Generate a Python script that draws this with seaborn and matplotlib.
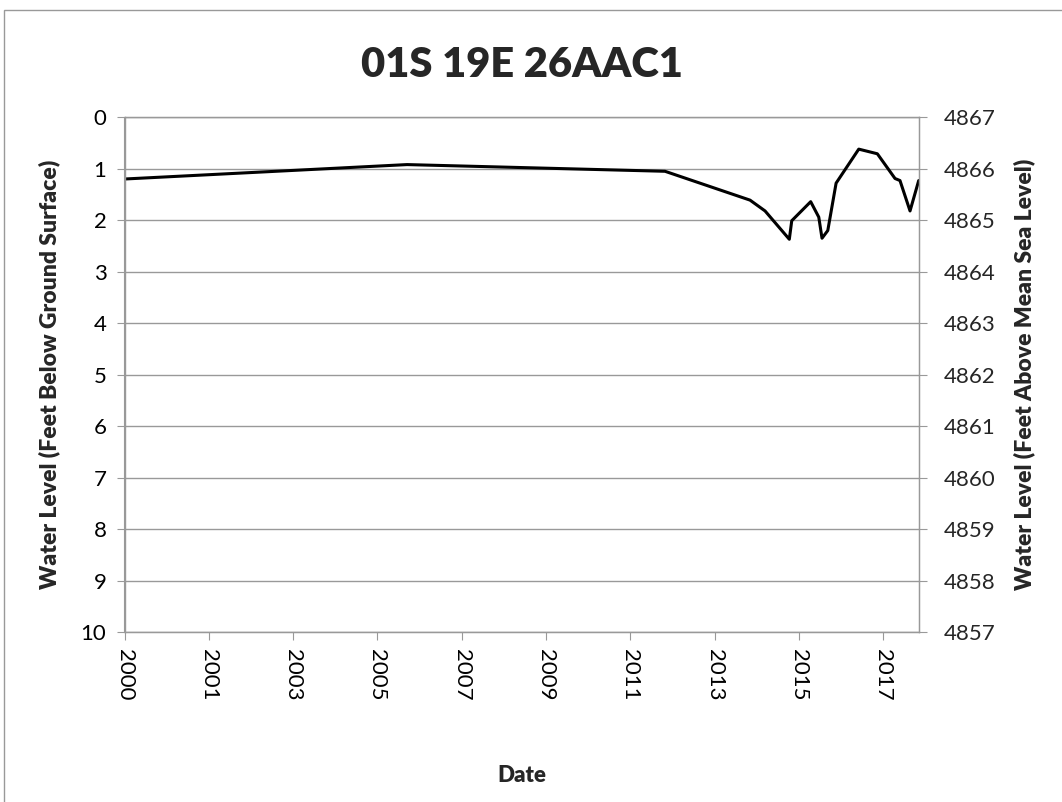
import pandas as pd
import matplotlib
matplotlib.use("Agg")
import matplotlib.pyplot as plt
import matplotlib.dates as mdates
from matplotlib.patches import Rectangle
import seaborn as sns

# well hydrograph, depth to water
dates = ["2000-01-01", "2006-09-12", "2012-10-23", "2014-10-29", "2015-03-08",
         "2015-10-04", "2015-10-25", "2016-04-06", "2016-06-15", "2016-07-13",
         "2016-09-01", "2016-11-12", "2017-05-27", "2017-11-04", "2018-04-06",
         "2018-05-19", "2018-08-14", "2018-10-28"]
depth = [1.20, 0.92, 1.05, 1.61, 1.82, 2.37, 2.01, 1.64, 1.94, 2.35,
         2.20, 1.28, 0.62, 0.71, 1.19, 1.23, 1.82, 1.23]
surface_elev = 4867
title = "01S 19E 26AAC1"

sns.set_style("white")
plt.rcParams['font.family'] = ['Lato', 'DejaVu Sans']

grey = '#999999'
df = pd.DataFrame({'date': pd.to_datetime(dates), 'depth': depth})

fig = plt.figure(figsize=(10.62, 8.02), dpi=100)
ax = fig.add_axes([124.5 / 1062, 1 - 632.3 / 802, 794.2 / 1062, 515.1 / 802])

sns.lineplot(data=df, x='date', y='depth', color='black', linewidth=2.2, ax=ax)

ax.set_ylim(10, 0)
ax.set_yticks(range(0, 11))
ax.set_xlim(df['date'].iloc[0], df['date'].iloc[-1])
ax.set_xticks(pd.date_range(dates[0], periods=10, freq='730D'))
ax.xaxis.set_major_formatter(mdates.DateFormatter('%Y'))
ax.grid(axis='y', color=grey, linewidth=1)
ax.grid(axis='x', visible=False)
for side in ['left', 'bottom', 'top', 'right']:
    ax.spines[side].set_color(grey)
    ax.spines[side].set_linewidth(1)
ax.tick_params(axis='both', direction='out', length=6, width=0.8, color=grey,
               labelsize=16, labelcolor='black')
ax.tick_params(axis='y', pad=7, left=True)
ax.tick_params(axis='x', pad=6, bottom=True)
plt.setp(ax.get_xticklabels(), rotation=270, ha='center', va='top')

ax.set_xlabel('Date', fontsize=16, fontweight='heavy')
ax.xaxis.label.set_va('baseline')
ax.xaxis.set_label_coords(0.5, (632.3 - 781.7) / 515.1)
ax.set_ylabel('Water Level (Feet Below Ground Surface)', fontsize=16.5, fontweight='heavy')
ax.yaxis.label.set(rotation_mode='anchor', va='baseline', ha='center')
ax.yaxis.set_label_coords((56.5 - 124.5) / 794.2, 0.5)

ax2 = ax.twinx()
ax2.set_ylim(surface_elev - 10, surface_elev)
ax2.set_yticks(range(surface_elev - 10, surface_elev + 1))
ax2.grid(False)
for side in ['left', 'bottom', 'top', 'right']:
    ax2.spines[side].set_color(grey)
ax2.tick_params(axis='y', direction='out', length=6, width=0.8, color=grey,
                labelsize=16, pad=12, right=True)
ax2.set_ylabel('Water Level (Feet Above Mean Sea Level)', fontsize=16.5, fontweight='heavy')
ax2.yaxis.label.set(rotation=90, rotation_mode='anchor', va='baseline', ha='center')
ax2.yaxis.set_label_coords((1031.5 - 124.5) / 794.2, 0.5)

fig.text((124.5 + 918.7) / 2 / 1062, 1 - 76.7 / 802, title, fontsize=30,
         fontweight='heavy', ha='center', va='baseline')

fig.patches.append(Rectangle((4 / 1062, -0.1), 1.2, 1 - 10 / 802 + 0.1,
                             transform=fig.transFigure, fill=False,
                             edgecolor=grey, linewidth=1))

fig.savefig('out.png', dpi=100)
